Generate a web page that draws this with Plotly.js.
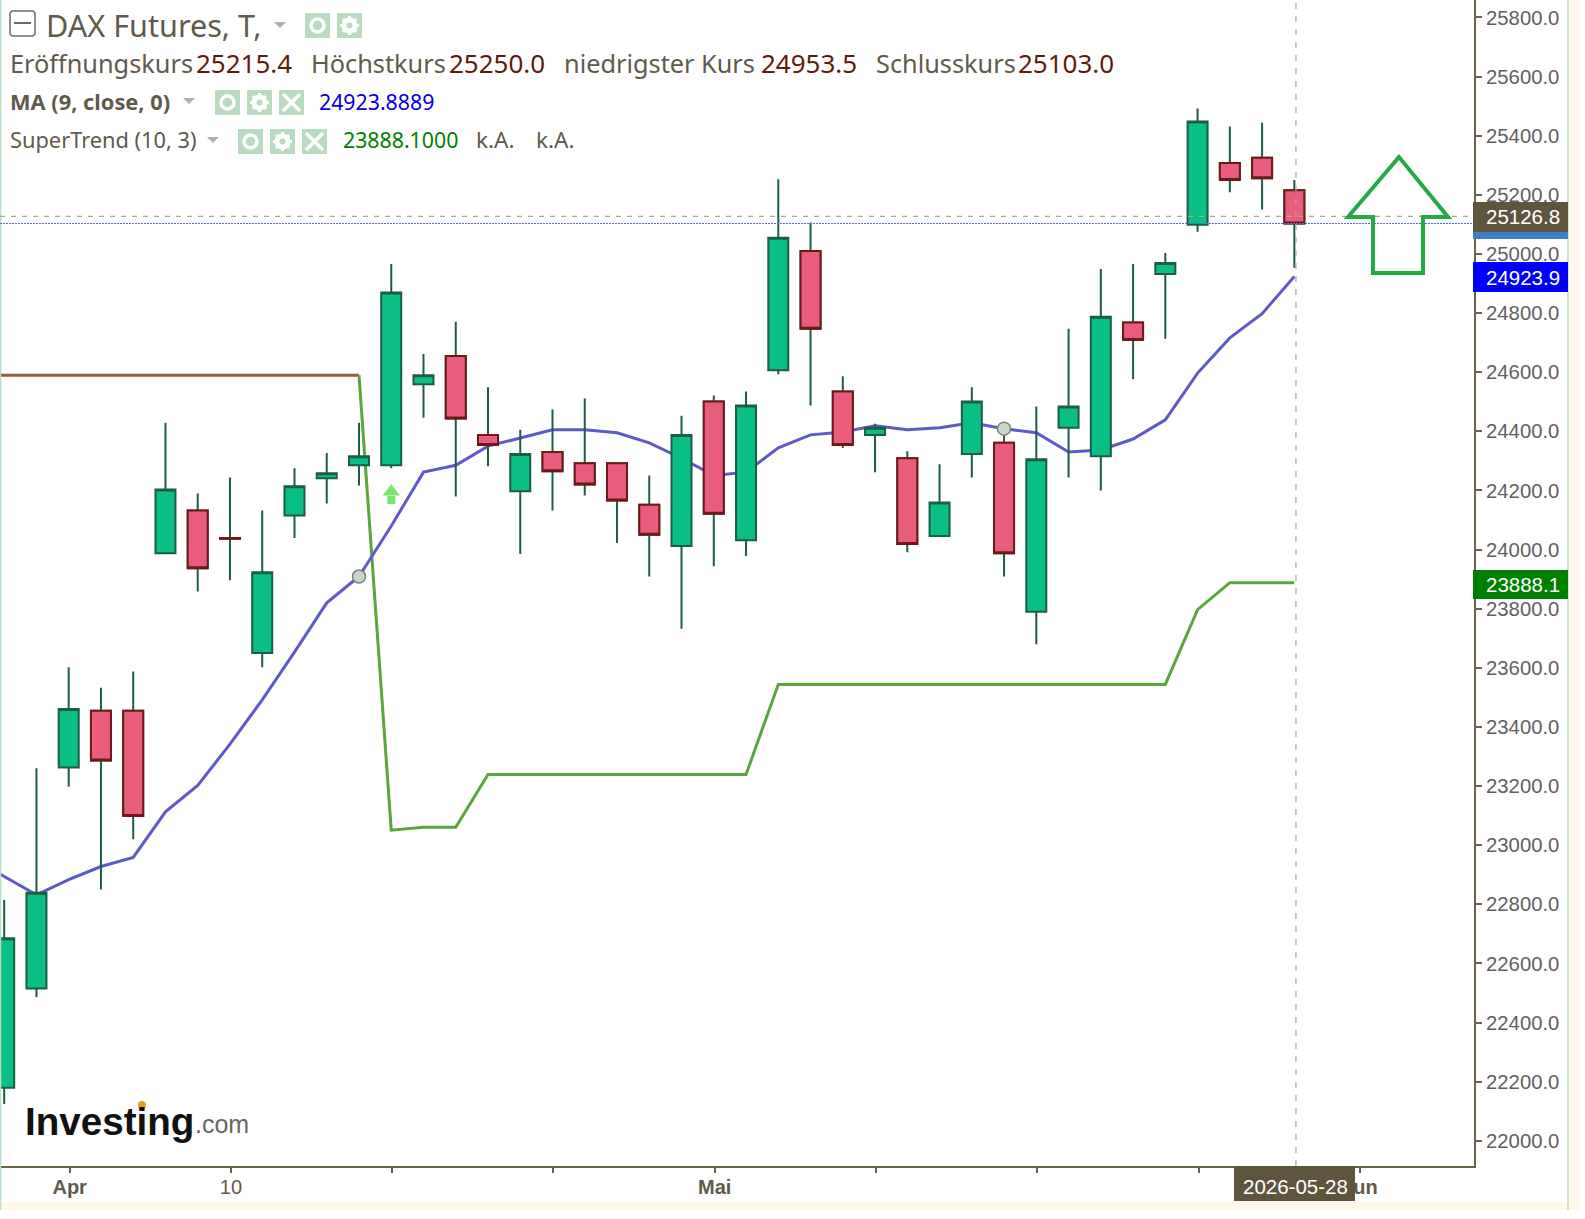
<!DOCTYPE html>
<html><head><meta charset="utf-8">
<script src="https://cdn.plot.ly/plotly-3.0.1.min.js"></script>
<style>html,body{margin:0;padding:0;background:#fff}#c{width:1585px;height:1219px}</style>
</head><body><div id="c"></div>
<script>
// --- data ---
const open_ = [22180,22515,23263,23455,23455,23988,24132,24039,23650,24115,24241,24285,24285,24559,24655,24388,24197,24330,24292,24292,24152,24012,24501,24032,24607,25010,24535,24388,24309,24046,24323,24361,23790,24412,24316,24768,24932,25099,25308,25325,25215.4];
const high_ = [22815,23260,23602,23533,23588,24429,24190,24244,24132,24275,24327,24429,24966,24662,24771,24549,24405,24474,24511,24296,24251,24453,24521,24535,25253,25106,24586,24426,24333,24289,24549,24409,24484,24747,24949,24966,25003,25492,25431,25444,25250];
const low_  = [22125,22487,23198,22850,23020,23988,23858,23896,23602,24039,24156,24217,24275,24446,24180,24282,23985,24132,24183,24022,23909,23732,23944,23978,24593,24487,24344,24262,23991,24043,24244,23909,23680,24244,24200,24576,24713,25075,25209,25150,24953.5];
const close_= [22685,22839,23461,23287,23099,24203,23937,24037,23923,24214,24258,24316,24870,24590,24443,24354,24323,24265,24220,24166,24050,24388,24121,24487,25055,24747,24354,24412,24019,24159,24501,23988,24306,24484,24788,24709,24969,25448,25250,25256,25103];
const maValues = [22960,22894,22832,22884,22928,22959,23113,23202,23342,23492,23653,23820,23909,24080,24262,24285,24350,24378,24405,24405,24395,24361,24309,24251,24262,24344,24388,24398,24419,24405,24412,24429,24409,24395,24330,24337,24374,24439,24597,24716,24798,24923.9];
const stDownIdx = [-1,11];
const stDownVal = [24590,24590];
const stUpIdx = [11,12,13,14,15,23,24,36,37,38,40];
const stUpVal = [24590,23051,23061,23061,23239,23239,23544,23544,23797,23888.1,23888.1];
const crossIdx = [11,31];
const crossVal = [23909,24409];
const signalIdx = 12;
const signalVal = 24186;
const xTickIdx = [2,7,12,17,22,27,32,37,42];
const xTickText = ['<b>Apr</b>','10','','','<b>Mai</b>','','','','<b>Jun</b>'];
const yTicks = [22000,22200,22400,22600,22800,23000,23200,23400,23600,23800,24000,24200,24400,24600,24800,25000,25200,25400,25600,25800];
const crossPrice = 25126.8, lastPrice = 25103, crossDateIdx = 40.05;

const idx = open_.map((_,i)=>i);
const maIdx = maValues.map((_,i)=>i-1);
const downI = idx.filter(i=>close_[i]<open_[i]);

// --- page geometry ---
const W=1585,H=1219,R=1474,B=1166;
const px=x=>x/R, py=y=>1-y/B;
const shapes=[],ann=[];
const rect=(x0,y0,x1,y1,fill,extra={})=>shapes.push(Object.assign({type:'rect',xref:'paper',yref:'paper',x0:px(x0),x1:px(x1),y0:py(y0),y1:py(y1),fillcolor:fill,line:{width:0},layer:'above'},extra));
const line=(x0,y0,x1,y1,col,w,dash)=>shapes.push({type:'line',xref:'paper',yref:'paper',x0:px(x0),x1:px(x1),y0:py(y0),y1:py(y1),line:{color:col,width:w,dash:dash||'solid'},layer:'above'});
const circ=(cx,cy,r,fill,lc,lw)=>shapes.push({type:'circle',xref:'paper',yref:'paper',x0:px(cx-r),x1:px(cx+r),y0:py(cy-r),y1:py(cy+r),fillcolor:fill,line:{color:lc||fill,width:lw||0},layer:'above'});
const poly=(pts,fill,lc,lw)=>shapes.push({type:'path',xref:'paper',yref:'paper',path:'M'+pts.map(p=>px(p[0])+','+py(p[1])).join(' L')+' Z',fillcolor:fill,line:{color:lc||fill,width:lw||0},layer:'above'});
const txt=(x,y,t,size,color,font,extra={})=>ann.push(Object.assign({xref:'paper',yref:'paper',x:px(x),y:py(y),text:t,showarrow:false,xanchor:'left',yanchor:'middle',font:{size,color,family:font||'Noto Sans, sans-serif'},borderpad:0},extra));

// page strips
rect(0,1202,1568,1210,'#fff8ea');
rect(1568,0,1580,1210,'#fff8ea');
line(1568,0,1568,1210,'#b5e0bb',1.5);
line(0.5,0,0.5,1210,'#b5e0bb',1.5);

// icons
const EYE=(x,y)=>{rect(x,y,x+25,y+25,'#b9dcc0');circ(x+12.5,y+12.5,6.5,'rgba(0,0,0,0)','#ffffff',3.5);};
const GEAR=(x,y)=>{rect(x,y,x+25,y+25,'#b9dcc0');circ(x+12.5,y+12.5,6,'#dcefe0','#ffffff',4);
  line(x+12.5,y+3,x+12.5,y+22,'#ffffff',3);line(x+3,y+12.5,x+22,y+12.5,'#ffffff',3);line(x+6,y+6,x+19,y+19,'#ffffff',3);line(x+6,y+19,x+19,y+6,'#ffffff',3);circ(x+12.5,y+12.5,3,'#b9dcc0');};
const CLOSE=(x,y)=>{rect(x,y,x+25,y+25,'#b9dcc0');line(x+4,y+4,x+21,y+21,'#ffffff',3.5);line(x+4,y+21,x+21,y+4,'#ffffff',3.5);};
const TRI=(x,y)=>poly([[x-6,y-3],[x+6,y-3],[x,y+3]],'#b0b0b0');

// header rows
shapes.push({type:'path',xref:'paper',yref:'paper',path:`M${px(12)},${py(11)} L${px(33)},${py(11)} L${px(35)},${py(13)} L${px(35)},${py(34)} L${px(33)},${py(36)} L${px(12)},${py(36)} L${px(10)},${py(34)} L${px(10)},${py(13)} Z`,fillcolor:'#fff',line:{color:'#6a6a6a',width:1.5},layer:'above'});
line(14,23,31,23,'#6a6a6a',2);
const brown='#5f5a4a', val='#5c1c0c';
txt(45,25,'DAX Futures, T,',30.6,brown);
TRI(280,25); EYE(305,13); GEAR(337,13);
const R2=63;
txt(9,R2,'Eröffnungskurs',25.3,brown); txt(195,R2,'25215.4',26,val);
txt(310,R2,'Höchstkurs',25.3,brown);    txt(448,R2,'25250.0',26,val);
txt(563,R2,'niedrigster Kurs',25.3,brown); txt(760,R2,'24953.5',26,val);
txt(875,R2,'Schlusskurs',25.3,brown);   txt(1017,R2,'25103.0',26,val);
const R3=101;
txt(9,R3,'<b>MA (9, close, 0)</b>',21.8,brown); TRI(189,R3);
EYE(215,90); GEAR(247,90); CLOSE(279,90);
txt(318,R3,'24923.8889',21.3,'#0000e6');
const R4=140;
txt(9,R4,'SuperTrend (10, 3)',21.8,brown); TRI(213,R4);
EYE(238,129); GEAR(270,129); CLOSE(302,129);
txt(342,R4,'23888.1000',21.3,'#008000');
txt(475,R4,'k.A.',22.5,brown); txt(535,R4,'k.A.',22.5,brown);

// logo
txt(24,1121,'<b>Investing</b>',38.6,'#111111','Liberation Sans, Arial, sans-serif');
txt(194,1124,'.com',25,'#666666','Liberation Sans, Arial, sans-serif');
circ(142,1105,4,'#e8a020');

// crosshairs
shapes.push({type:'line',xref:'paper',yref:'y',x0:0,x1:1,y0:lastPrice,y1:lastPrice,line:{color:'#5070c0',width:1,dash:'2px,1px'},layer:'above'});
shapes.push({type:'line',xref:'paper',yref:'y',x0:0,x1:1,y0:crossPrice,y1:crossPrice,line:{color:'#a8a898',width:1.2,dash:'5px,6px'},layer:'above'});
shapes.push({type:'line',xref:'x',yref:'paper',x0:crossDateIdx,x1:crossDateIdx,y0:0,y1:1,line:{color:'#a8a898',width:1.2,dash:'6px,7px'},layer:'above'});

// hand-drawn arrow
poly([[1399,157],[1348,217],[1373,217],[1373,273],[1423,273],[1423,217],[1448,217]],'rgba(0,0,0,0)','#22aa44',4);

// price badges
const FT='Liberation Sans, Arial, sans-serif';
const badge=(y0,y1,fill,t)=>{rect(1473,y0,1568,y1,fill);ann.push({xref:'paper',yref:'paper',x:px(1562),y:py((y0+y1)/2),xanchor:'right',yanchor:'middle',showarrow:false,text:t,font:{size:20.5,color:'#fff',family:FT}});};
rect(1473,232,1568,239,'#3a80c8');
badge(202,232,'#5f553c','25126.8');
badge(262,292,'#0000ff','24923.9');
badge(570,599,'#008000','23888.1');
rect(1234,1166,1355,1201,'#5f553c');
ann.push({xref:'paper',yref:'paper',x:px(1295),y:py(1186),xanchor:'center',yanchor:'middle',showarrow:false,text:'2026-05-28',font:{size:20.5,color:'#fff',family:FT}});

const wick='#1d5c45';
const traces=[
 {type:'scatter',mode:'lines',x:stDownIdx,y:stDownVal,line:{color:'#a0583a',width:3},showlegend:false,hoverinfo:'skip'},
 {type:'scatter',mode:'lines',x:stUpIdx,y:stUpVal,line:{color:'#5aa63c',width:3},showlegend:false,hoverinfo:'skip'},
 {type:'scatter',mode:'lines',x:maIdx,y:maValues,line:{color:'#5b5bc8',width:3},showlegend:false,hoverinfo:'skip'},
 {type:'candlestick',xaxis:'x2',yaxis:'y2',x:idx,open:open_,high:high_,low:low_,close:close_,whiskerwidth:0,
  increasing:{line:{color:wick,width:2},fillcolor:'#0abf85'},decreasing:{line:{color:wick,width:2},fillcolor:'#e85c7c'},showlegend:false,hoverinfo:'skip'},
 {type:'candlestick',xaxis:'x2',yaxis:'y2',x:downI,open:downI.map(i=>open_[i]),high:downI.map(i=>open_[i]),low:downI.map(i=>close_[i]),close:downI.map(i=>close_[i]),whiskerwidth:0,
  increasing:{line:{color:'#701818',width:2},fillcolor:'#e85c7c'},decreasing:{line:{color:'#701818',width:2},fillcolor:'#e85c7c'},showlegend:false,hoverinfo:'skip'},
 {type:'scatter',xaxis:'x2',yaxis:'y2',mode:'markers',x:crossIdx,y:crossVal,marker:{size:13,color:'#c8d8c8',line:{color:'#808080',width:1.5}},showlegend:false,hoverinfo:'skip'},
 {type:'scatter',xaxis:'x2',yaxis:'y2',mode:'markers',x:[signalIdx,signalIdx],y:[signalVal+10,signalVal-18],marker:{size:[15,8],symbol:['triangle-up','square'],color:'#3fdc2e',line:{width:0}},showlegend:false,hoverinfo:'skip'}
];
const xRange=[-0.13,45.57], yRange=[21915,25859];
const layout={width:W,height:H,margin:{l:0,r:W-R,t:0,b:H-B,pad:0},paper_bgcolor:'#fff',plot_bgcolor:'#fff',showlegend:false,boxmode:'overlay',boxgap:0.38,boxgroupgap:0,
 xaxis:{type:'linear',range:xRange,tickmode:'array',tickvals:xTickIdx.map(v=>v+0.03),ticktext:xTickText,ticks:'outside',ticklen:5,tickwidth:2,tickcolor:'#6b6048',showgrid:false,zeroline:false,showline:true,linecolor:'#6b6048',linewidth:2,tickfont:{family:FT,size:20,color:'#5f5a4a'},ticklabelstandoff:-3,rangeslider:{visible:false},fixedrange:true},
 yaxis:{side:'right',range:yRange,tickmode:'array',tickvals:yTicks,ticktext:yTicks.map(v=>v.toFixed(1)),ticks:'outside',ticklen:6,tickwidth:2,tickcolor:'#6b6048',showgrid:false,zeroline:false,showline:true,linecolor:'#6b6048',linewidth:2,tickfont:{family:FT,size:20.3,color:'#5f5f5f'},fixedrange:true},
 xaxis2:{type:'linear',overlaying:'x',range:xRange,visible:false,rangeslider:{visible:false},fixedrange:true},
 yaxis2:{overlaying:'y',side:'right',range:yRange,visible:false,fixedrange:true},
 shapes,annotations:ann};
Plotly.newPlot('c',traces,layout,{displayModeBar:false,staticPlot:true});
</script></body></html>
